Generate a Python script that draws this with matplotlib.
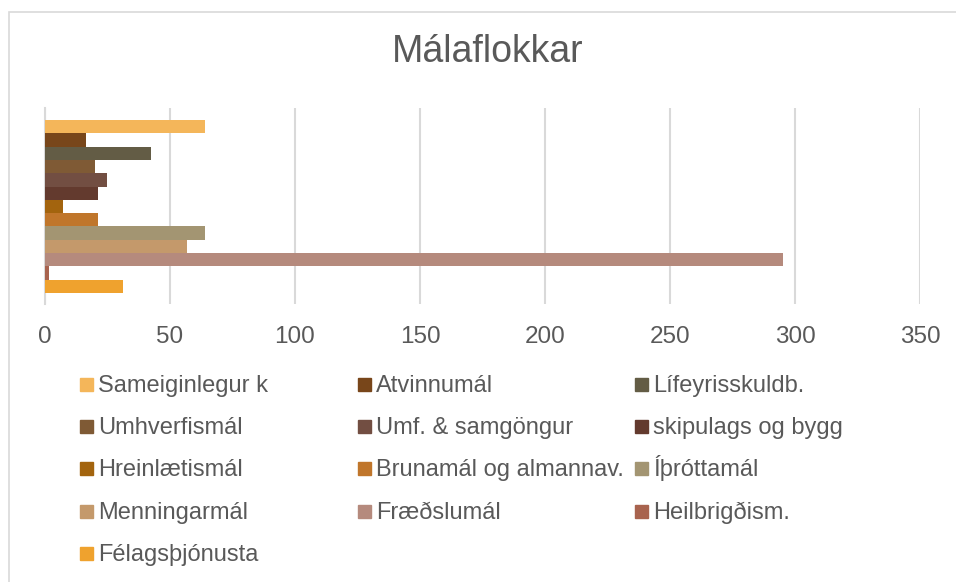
import matplotlib
matplotlib.use("Agg")
import matplotlib.pyplot as plt
from matplotlib.patches import Rectangle

categories = ["Sameiginlegur k", "Atvinnumál", "Lífeyrisskuldb.", "Umhverfismál",
              "Umf. & samgöngur", "skipulags og bygg", "Hreinlætismál",
              "Brunamál og almannav.", "Íþróttamál", "Menningarmál",
              "Fræðslumál", "Heilbrigðism.", "Félagsþjónusta"]
values = [64, 16.4, 42.4, 20, 24.8, 21.2, 7.2, 21.2, 64, 56.8, 295, 1.6, 31.2]
colors = ["#F4B65A", "#78461A", "#635C45", "#7F5A35", "#724E42", "#633A2E",
          "#A3640E", "#C0762B", "#A39572", "#C4996B", "#B58A7D", "#A8634E",
          "#EFA22E"]
xticks = [0, 50, 100, 150, 200, 250, 300, 350]

W, H = 956, 582
plt.rcParams['font.family'] = ['Liberation Sans', 'DejaVu Sans']
fig = plt.figure(figsize=(W / 100, H / 100), dpi=100)

# outer chart border (top and left visible)
fig.patches.append(Rectangle((9 / W, -0.1), 1.2, (H - 12) / H + 0.1,
                             transform=fig.transFigure, fill=False,
                             edgecolor="#D9D9D9", linewidth=1.2))

ax = fig.add_axes([45 / W, 1 - 304 / H, (920 - 45) / W, (304 - 108) / H])
pos = list(range(len(values)))
for p, v, c in zip(pos, values, colors):
    ax.barh(p, v, height=1.0, color=c, zorder=3)
ax.set_ylim(12.5 + 0.83, -0.5 - 0.9)
ax.set_xlim(0, 350)
ax.set_xticks(xticks)
ax.set_yticks([])
ax.grid(axis='x', color="#D9D9D9", linewidth=1.5, zorder=0)
for s in ["top", "right", "bottom"]:
    ax.spines[s].set_visible(False)
ax.spines["left"].set_color("#D9D9D9")
ax.spines["left"].set_linewidth(1.5)
ax.tick_params(axis='x', length=0, labelsize=17.5, colors="#595959", pad=15.5)

fig.text(488 / W, 1 - 62 / H, "Málaflokkar", ha="center",
         va="baseline", fontsize=27, color="#595959")

# legend (row-major, 3 columns)
col_x = [80, 358, 635]
row_base = [392, 434, 476, 519, 561]
for i, (lab, c) in enumerate(zip(categories, colors)):
    r, k = divmod(i, 3)
    x0, yb = col_x[k], row_base[r]
    fig.patches.append(Rectangle((x0 / W, 1 - (yb - 1) / H), 13 / W, 13 / H,
                                 transform=fig.transFigure, color=c))
    fig.text((x0 + 18) / W, 1 - yb / H, lab, ha="left", va="baseline",
             fontsize=17, color="#595959")

fig.savefig("out.png", dpi=100)
